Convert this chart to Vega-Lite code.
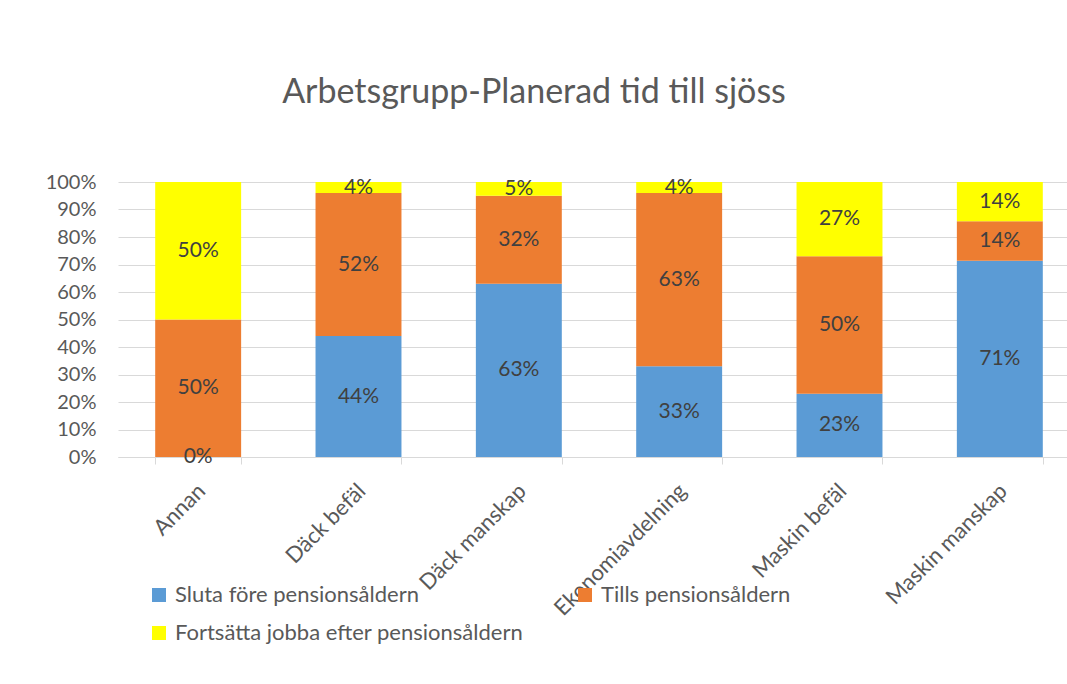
{
  "$schema": "https://vega.github.io/schema/vega-lite/v6.json",
  "width": 962,
  "height": 275,
  "autosize": {"type": "none"},
  "padding": {"left": 118, "top": 182, "right": 0, "bottom": 227},
  "background": "white",
  "title": {
    "text": "Arbetsgrupp-Planerad tid till sjöss",
    "font": "Lato",
    "fontSize": 34,
    "fontWeight": "normal",
    "color": "#595959",
    "anchor": "middle",
    "frame": "group",
    "dx": -65,
    "offset": 62
  },
  "data": {
    "values": [
      {"cat": "Annan", "series": "Sluta före pensionsåldern", "v": 0},
      {"cat": "Annan", "series": "Tills pensionsåldern", "v": 0.5},
      {"cat": "Annan", "series": "Fortsätta jobba efter pensionsåldern", "v": 0.5},
      {"cat": "Däck befäl", "series": "Sluta före pensionsåldern", "v": 0.44},
      {"cat": "Däck befäl", "series": "Tills pensionsåldern", "v": 0.52},
      {"cat": "Däck befäl", "series": "Fortsätta jobba efter pensionsåldern", "v": 0.04},
      {"cat": "Däck manskap", "series": "Sluta före pensionsåldern", "v": 0.63},
      {"cat": "Däck manskap", "series": "Tills pensionsåldern", "v": 0.32},
      {"cat": "Däck manskap", "series": "Fortsätta jobba efter pensionsåldern", "v": 0.05},
      {"cat": "Ekonomiavdelning", "series": "Sluta före pensionsåldern", "v": 0.33},
      {"cat": "Ekonomiavdelning", "series": "Tills pensionsåldern", "v": 0.63},
      {"cat": "Ekonomiavdelning", "series": "Fortsätta jobba efter pensionsåldern", "v": 0.04},
      {"cat": "Maskin befäl", "series": "Sluta före pensionsåldern", "v": 0.23},
      {"cat": "Maskin befäl", "series": "Tills pensionsåldern", "v": 0.5},
      {"cat": "Maskin befäl", "series": "Fortsätta jobba efter pensionsåldern", "v": 0.27},
      {"cat": "Maskin manskap", "series": "Sluta före pensionsåldern", "v": 0.714},
      {"cat": "Maskin manskap", "series": "Tills pensionsåldern", "v": 0.143},
      {"cat": "Maskin manskap", "series": "Fortsätta jobba efter pensionsåldern", "v": 0.143}
    ]
  },
  "transform": [
    {"stack": "v", "groupby": ["cat"], "offset": "normalize", "as": ["y0", "y1"]}
  ],
  "encoding": {
    "x": {
      "field": "cat",
      "type": "nominal",
      "sort": null,
      "scale": {"paddingInner": 0.464, "paddingOuter": 0.232},
      "axis": {
        "title": null,
        "labelAngle": -45,
        "labelAlign": "right",
        "labelBaseline": "top",
        "labelFont": "Lato",
        "labelFontSize": 22,
        "labelColor": "#595959",
        "labelPadding": 16,
        "labelOffset": -4,
        "labelLimit": 400,
        "tickBand": "extent",
        "tickColor": "#d9d9d9",
        "tickSize": 7,
        "domainColor": "#d9d9d9",
        "grid": false
      }
    }
  },
  "layer": [
    {
      "mark": {"type": "bar"},
      "encoding": {
        "y": {
          "field": "y0",
          "type": "quantitative",
          "scale": {"domain": [0, 1]},
          "axis": {
            "title": null,
            "values": [0, 0.1, 0.2, 0.3, 0.4, 0.5, 0.6, 0.7, 0.8, 0.9, 1],
            "format": ".0%",
            "domain": false,
            "ticks": false,
            "tickSize": 0,
            "labelPadding": 22,
            "labelFont": "Lato",
            "labelFontSize": 20,
            "labelColor": "#595959",
            "gridColor": "#d9d9d9",
            "gridWidth": 1
          }
        },
        "y2": {"field": "y1"},
        "color": {
          "field": "series",
          "type": "nominal",
          "scale": {
            "domain": ["Sluta före pensionsåldern", "Tills pensionsåldern", "Fortsätta jobba efter pensionsåldern"],
            "range": ["#5B9BD5", "#ED7D31", "#FFFF00"]
          },
          "legend": {
            "orient": "none",
            "legendX": 30,
            "legendY": 402,
            "direction": "horizontal",
            "columns": 2,
            "title": null,
            "symbolType": "square",
            "symbolSize": 196,
            "symbolStrokeWidth": 0,
            "labelFont": "Lato",
            "labelFontSize": 22,
            "labelColor": "#595959",
            "labelOffset": 5,
            "columnPadding": 50,
            "rowPadding": 16,
            "labelLimit": 500
          }
        }
      }
    },
    {
      "transform": [{"fold": ["y0", "y1"], "as": ["k", "pos"]}],
      "mark": {"type": "text", "font": "Lato", "fontSize": 21, "color": "#404040", "baseline": "middle"},
      "encoding": {
        "y": {
          "aggregate": "mean",
          "field": "pos",
          "type": "quantitative",
          "axis": {
            "title": null,
            "values": [0, 0.1, 0.2, 0.3, 0.4, 0.5, 0.6, 0.7, 0.8, 0.9, 1],
            "format": ".0%",
            "domain": false,
            "ticks": false,
            "tickSize": 0,
            "labelPadding": 22,
            "labelFont": "Lato",
            "labelFontSize": 20,
            "labelColor": "#595959",
            "gridColor": "#d9d9d9",
            "gridWidth": 1
          }
        },
        "detail": {"field": "series"},
        "text": {"field": "v", "type": "quantitative", "format": ".0%"}
      }
    }
  ],
  "config": {"view": {"stroke": null}}
}
